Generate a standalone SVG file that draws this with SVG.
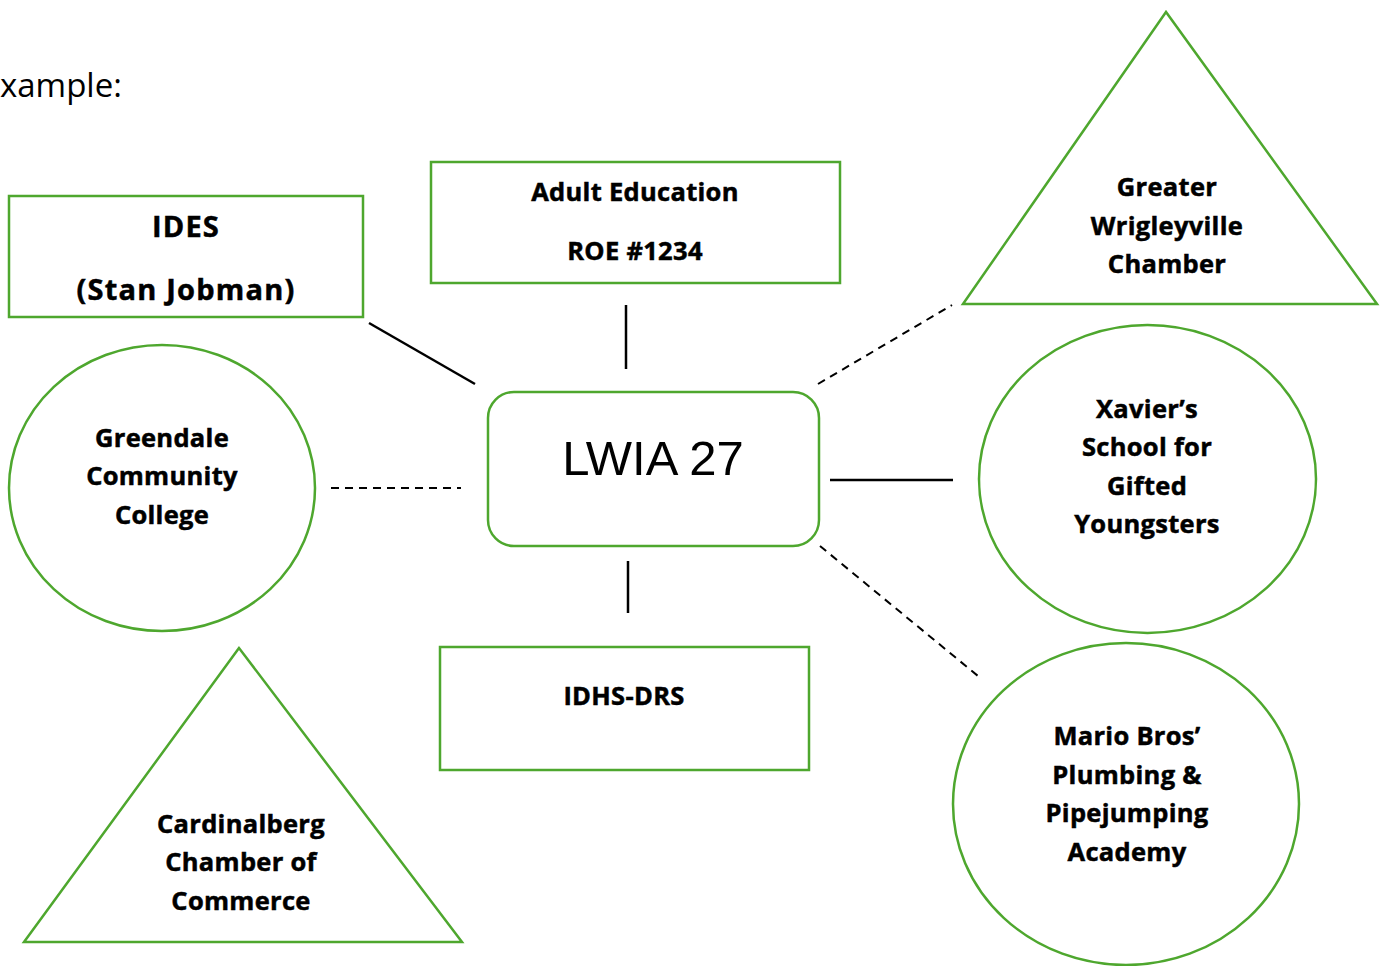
<svg xmlns="http://www.w3.org/2000/svg" width="1382" height="966" viewBox="0 0 1382 966">
<style>
.shape{fill:#fff;stroke:#4EA72E;stroke-width:2.5}
.lbl{font-family:"Open Sans","Liberation Sans",sans-serif;font-weight:bold;font-size:25.5px;letter-spacing:0.3px;fill:#000;stroke:#000;stroke-width:0.5;text-anchor:middle}
.big{font-size:29px;letter-spacing:1.2px}
.solid{stroke:#000;stroke-width:2.5;fill:none}
.dash{stroke:#000;stroke-width:2;fill:none;stroke-dasharray:8 6}
</style>
<rect width="1382" height="966" fill="#fff"/>
<text x="0" y="97" font-family="Open Sans, Liberation Sans, sans-serif" font-size="33" fill="#000">xample:</text>
<g id="connectors">
<line class="solid" x1="369" y1="323" x2="475" y2="384"/>
<line class="solid" x1="626" y1="305" x2="626" y2="369"/>
<line class="dash" x1="818" y1="384" x2="952" y2="305"/>
<line class="dash" x1="331" y1="488" x2="461" y2="488"/>
<line class="solid" x1="830" y1="480" x2="953" y2="480"/>
<line class="solid" x1="628" y1="561" x2="628" y2="613"/>
<line class="dash" x1="820" y1="546" x2="978" y2="676"/>
</g>
<g id="ides">
<rect class="shape" x="9" y="196" width="354" height="121"/>
<text class="lbl big" x="186" y="237">IDES</text>
<text class="lbl big" x="186" y="300">(Stan Jobman)</text>
</g>
<g id="adult-ed">
<rect class="shape" x="431" y="162" width="409" height="121"/>
<text class="lbl" x="635" y="201">Adult Education</text>
<text class="lbl" x="635" y="260">ROE #1234</text>
</g>
<g id="wrigleyville">
<polygon class="shape" points="1166,12 963,304 1377,304"/>
<text class="lbl" x="1167" y="196">Greater</text>
<text class="lbl" x="1167" y="235">Wrigleyville</text>
<text class="lbl" x="1167" y="273">Chamber</text>
</g>
<g id="lwia">
<rect class="shape" x="488" y="392" width="331" height="154" rx="26" ry="26"/>
<text x="653" y="475" font-family="Liberation Sans, Arial, sans-serif" font-size="49" text-anchor="middle" fill="#000">LWIA 27</text>
</g>
<g id="greendale">
<ellipse class="shape" cx="162" cy="488" rx="153" ry="143"/>
<text class="lbl" x="162" y="447">Greendale</text>
<text class="lbl" x="162" y="485">Community</text>
<text class="lbl" x="162" y="524">College</text>
</g>
<g id="xavier">
<ellipse class="shape" cx="1147.5" cy="479" rx="168.5" ry="154"/>
<text class="lbl" x="1147" y="418">Xavier’s</text>
<text class="lbl" x="1147" y="456">School for</text>
<text class="lbl" x="1147" y="495">Gifted</text>
<text class="lbl" x="1147" y="533">Youngsters</text>
</g>
<g id="idhs">
<rect class="shape" x="440" y="647" width="369" height="123"/>
<text class="lbl" x="624" y="705">IDHS-DRS</text>
</g>
<g id="mario">
<ellipse class="shape" cx="1126" cy="804" rx="173" ry="161"/>
<text class="lbl" x="1127" y="745">Mario Bros’</text>
<text class="lbl" x="1127" y="784">Plumbing &amp;</text>
<text class="lbl" x="1127" y="822">Pipejumping</text>
<text class="lbl" x="1127" y="861">Academy</text>
</g>
<g id="cardinalberg">
<polygon class="shape" points="239,648 24,942 462,942"/>
<text class="lbl" x="241" y="833">Cardinalberg</text>
<text class="lbl" x="241" y="871">Chamber of</text>
<text class="lbl" x="241" y="910">Commerce</text>
</g>
</svg>
